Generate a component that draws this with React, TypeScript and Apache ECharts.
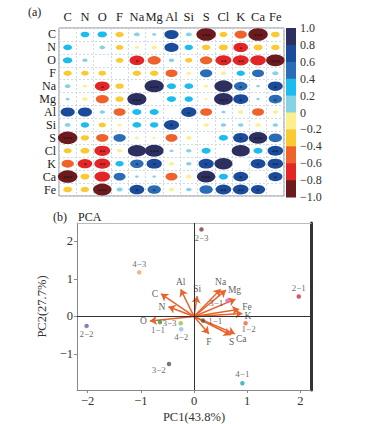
import React, { useEffect, useRef } from "react";
import * as echarts from "echarts";

const FONT = "'Liberation Serif', 'DejaVu Serif', serif";

// ---------- panel (a): correlation matrix ----------
const elements = ["C", "N", "O", "F", "Na", "Mg", "Al", "Si", "S", "Cl", "K", "Ca", "Fe"];
// upper triangle, row i holds r(i, j) for j > i
const corrUpper = [
  [0.32, 0.36, -0.3, 0.16, 0.06, 0.62, 0.16, -0.92, -0.28, -0.52, -0.92, -0.32],
  [0.14, -0.26, -0.08, -0.14, 0.62, 0.3, -0.3, -0.34, -0.64, -0.34, -0.3],
  [-0.26, -0.66, -0.56, 0.14, -0.24, -0.52, -0.72, -0.72, -0.7, -0.86],
  [-0.3, -0.3, -0.5, -0.08, 0.52, -0.14, 0.3, 0.5, 0.18],
  [0.9, 0.34, 0.32, -0.06, 0.84, 0.58, 0.04, 0.66],
  [0.34, 0.3, -0.02, 0.88, 0.68, 0.04, 0.58],
  [0.68, -0.5, 0.06, -0.14, -0.5, -0.12],
  [-0.14, 0.14, 0.14, -0.14, 0.14],
  [0.34, 0.68, 0.86, 0.58],
  [0.84, 0.34, 0.7],
  [0.66, 0.7],
  [0.62],
];
// significance stars, same shape
const sigUpper = [
  [0, 0, 0, 0, 0, 0, 0, 3, 0, 0, 3, 0],
  [0, 0, 0, 0, 0, 0, 0, 0, 1, 0, 0],
  [0, 1, 0, 0, 0, 0, 2, 2, 0, 3],
  [0, 0, 0, 0, 0, 0, 0, 0, 0],
  [3, 0, 0, 0, 0, 1, 0, 1],
  [0, 0, 0, 3, 1, 0, 1],
  [1, 0, 0, 0, 0, 0],
  [0, 0, 0, 0, 0],
  [0, 1, 3, 0],
  [0, 0, 2],
  [1, 2],
  [1],
];
// colour bar bins (upper bound of each 0.2 bin) and colours, top to bottom
const binUpper = [1.0, 0.8, 0.6, 0.4, 0.2, 0, -0.2, -0.4, -0.6, -0.8];
const binColors = [
  "#2c2f60", "#1b4b9b", "#2a6cb5", "#1dbcee", "#88d2e6",
  "#fcef8e", "#fbc930", "#ef622c", "#e42526", "#6c1a1e",
];

// ---------- panel (b): PCA ----------
const sampleNames = ["2−3", "4−3", "2−1", "3−1", "1−1", "3−3", "4−2", "1−1", "1−2", "2−2", "3−2", "4−1"];
const samplePC1 = [0.14, -1.03, 1.97, 0.63, -0.64, -0.25, -0.24, 0.17, 0.97, -2.02, -0.47, 0.91];
const samplePC2 = [2.31, 1.17, 0.53, 0.42, -0.15, -0.18, -0.34, -0.11, -0.18, -0.25, -1.26, -1.77];
const sampleColors = [
  "#7b3a3a", "#f5a05a", "#c8323c", "#cc66cc", "#2e9a44", "#a0bb4c",
  "#8cc0ea", "#555555", "#f0642e", "#7b58a8", "#555555", "#1aa8b8",
];
const loadingNames = ["C", "N", "O", "F", "Na", "Mg", "Al", "Si", "S", "Cl", "K", "Ca", "Fe"];
const loadPC1 = [-0.62, -0.48, -0.83, 0.28, 0.5, 0.6, -0.25, 0.06, 0.69, 0.78, 0.91, 0.77, 0.85];
const loadPC2 = [0.6, 0.26, -0.12, -0.46, 0.72, 0.7, 0.72, 0.54, -0.49, 0.46, 0.08, -0.46, 0.19];
const loadingShowLabel = [true, true, true, true, true, true, true, true, true, false, true, true, true];
const pc1Ticks = [-2, -1, 0, 1, 2];
const pc2Ticks = [-1, 0, 1, 2];

// label placement (style only)
const sampleLabelPos: any[] = [
  { position: "bottom", distance: 2 },
  { position: "top", distance: 2 },
  { position: "top", distance: 2 },
  { position: "left", distance: 2, offset: [0, 2] },
  { position: "bottom", distance: 1, offset: [-2, 0] },
  { position: "left", distance: 2 },
  { position: "bottom", distance: 1 },
  { position: "right", distance: 3 },
  { position: "bottom", distance: 0, offset: [3, -1] },
  { position: "bottom", distance: 1 },
  { position: "left", distance: 1, offset: [0, 6] },
  { position: "top", distance: 2 },
];
const loadingLabelPos: any[] = [
  { position: "left", distance: 3 },
  { position: "left", distance: 3 },
  { position: "left", distance: 3 },
  { position: "bottom", distance: 3 },
  { position: "top", distance: 2 },
  { position: "right", distance: 2 },
  { position: "top", distance: 2 },
  { position: "top", distance: 2 },
  { position: "bottom", distance: 2, offset: [1, 0] },
  { position: "right", distance: 2 },
  { position: "right", distance: 2, offset: [0, 3] },
  { position: "right", distance: 1, offset: [0, 5] },
  { position: "right", distance: 3, offset: [0, -2] },
];

function corr(i: number, j: number): number {
  if (i < j) return corrUpper[i][j - i - 1];
  return corrUpper[j][i - j - 1];
}
function sig(i: number, j: number): number {
  if (i < j) return sigUpper[i][j - i - 1];
  return sigUpper[j][i - j - 1];
}
function colorFor(r: number): string {
  const k = Math.max(0, Math.min(9, Math.floor((1 - r) / 0.2 + 1e-9)));
  return binColors[k];
}
const minus = (s: string) => s.replace(/-/g, "−");
const fmtTick = (v: number) => minus(String(Math.round(v * 100) / 100));
const fmtBar = (v: number) => {
  const r = Math.round(v * 10) / 10;
  if (r === 0) return "0";
  return minus(r.toFixed(1));
};

export default function App() {
  const ref = useRef<HTMLDivElement>(null);
  useEffect(() => {
    if (!ref.current) return;
    const chart = echarts.init(ref.current, undefined, { renderer: "svg" });

    const corrData: any[] = [];
    for (let i = 0; i < elements.length; i++) {
      for (let j = 0; j < elements.length; j++) {
        if (i === j) continue;
        corrData.push([j, i, corr(i, j), sig(i, j)]);
      }
    }

    const option: any = {
      animation: false,
      textStyle: { fontFamily: FONT },
      graphic: [
        { type: "text", left: 28, top: 6, style: { text: "(a)", font: `12px ${FONT}`, fill: "#222" } },
        { type: "text", left: 53, top: 211, style: { text: "(b)", font: `12px ${FONT}`, fill: "#222" } },
        { type: "text", left: 78, top: 211, style: { text: "PCA", font: `12px ${FONT}`, fill: "#222" } },
      ],
      grid: [
        { left: 59, top: 28, width: 225, height: 168, show: true, borderColor: "#8c8c8c", borderWidth: 1 },
        { left: 77, top: 223, width: 234, height: 167 },
        { left: 286, top: 28, width: 10, height: 169 },
      ],
      xAxis: [
        {
          gridIndex: 0, type: "category", data: elements, position: "top",
          axisLine: { show: false }, axisTick: { show: false },
          axisLabel: { fontSize: 12.5, color: "#222", margin: 5, interval: 0, fontFamily: FONT },
          splitLine: { show: true, interval: 0, lineStyle: { color: "#cddbe8", type: [2, 2], width: 1 } },
        },
        {
          gridIndex: 1, type: "value", min: -2.2, max: 2.2,
          axisLine: { onZero: false, lineStyle: { color: "#888" } },
          axisTick: { show: true, length: 3, customValues: pc1Ticks, lineStyle: { color: "#888" } },
          axisLabel: { customValues: pc1Ticks, formatter: fmtTick, fontSize: 12.5, color: "#333", margin: 4, fontFamily: FONT },
          splitLine: { show: false },
          name: "PC1(43.8%)", nameLocation: "middle", nameGap: 20,
          nameTextStyle: { fontSize: 12.5, color: "#333", fontFamily: FONT },
        },
        {
          gridIndex: 1, type: "value", min: -2.2, max: 2.2, position: "top",
          axisLine: { onZero: false, lineStyle: { color: "#bbbbbb" } },
          axisTick: { show: false }, axisLabel: { show: false }, splitLine: { show: false },
        },
        { gridIndex: 2, type: "value", min: 0, max: 1, show: false },
      ],
      yAxis: [
        {
          gridIndex: 0, type: "category", data: elements, inverse: true,
          axisLine: { show: false }, axisTick: { show: false },
          axisLabel: { fontSize: 12, color: "#222", margin: 3, interval: 0, fontFamily: FONT },
          splitLine: { show: true, interval: 0, lineStyle: { color: "#cddbe8", type: [2, 2], width: 1 } },
        },
        {
          gridIndex: 1, type: "value", min: -1.95, max: 2.48,
          axisLine: { onZero: false, lineStyle: { color: "#888" } },
          axisTick: { show: true, length: 3, customValues: pc2Ticks, lineStyle: { color: "#888" } },
          axisLabel: { customValues: pc2Ticks, formatter: fmtTick, fontSize: 12.5, color: "#333", margin: 4, fontFamily: FONT },
          splitLine: { show: false },
          name: "PC2(27.7%)", nameLocation: "middle", nameGap: 24,
          nameTextStyle: { fontSize: 12.5, color: "#333", fontFamily: FONT },
        },
        {
          gridIndex: 1, type: "value", min: -1.95, max: 2.48, position: "right",
          axisLine: { onZero: false, lineStyle: { color: "#333", width: 3 } },
          axisTick: { show: false }, axisLabel: { show: false }, splitLine: { show: false },
        },
        {
          gridIndex: 2, type: "value", min: -1, max: 1, interval: 0.2, position: "right",
          axisLine: { show: false }, axisTick: { show: false }, splitLine: { show: false },
          axisLabel: { fontSize: 12, color: "#333", margin: 4, formatter: fmtBar, fontFamily: FONT },
        },
      ],
      series: [
        {
          type: "scatter", xAxisIndex: 0, yAxisIndex: 0, data: corrData,
          symbol: "circle",
          symbolSize: (v: any) => {
            const w = 3 + 18 * Math.abs(v[2]);
            return [w, w * 0.64];
          },
          itemStyle: { color: (p: any) => colorFor(p.value[2]), opacity: 1 },
          label: {
            show: true, position: "inside",
            formatter: (p: any) => "*".repeat(p.value[3]),
            fontSize: 6, color: "#111", offset: [0, 1.5], fontFamily: FONT,
          },
          silent: true,
        },
        {
          type: "custom", xAxisIndex: 3, yAxisIndex: 3,
          data: binUpper.map((u, k) => [u, k]),
          renderItem: (params: any, api: any) => {
            const hi = api.value(0);
            const k = api.value(1);
            const p1 = api.coord([0, hi]);
            const p2 = api.coord([1, hi - 0.2]);
            return {
              type: "rect",
              shape: { x: p1[0], y: p1[1], width: p2[0] - p1[0], height: p2[1] - p1[1] + 0.5 },
              style: { fill: binColors[k] },
            };
          },
          silent: true,
        },
        {
          type: "scatter", xAxisIndex: 1, yAxisIndex: 1, z: 1,
          data: [],
          markLine: {
            silent: true, symbol: "none", label: { show: false },
            lineStyle: { color: "#333", width: 1, type: "solid" },
            data: [{ xAxis: 0 }, { yAxis: 0 }],
          },
        },
        {
          type: "lines", coordinateSystem: "cartesian2d", xAxisIndex: 1, yAxisIndex: 1, z: 3,
          symbol: ["none", "arrow"], symbolSize: [0, 7],
          lineStyle: { color: "#e8632c", width: 1.5, opacity: 1 },
          data: loadingNames.map((n, i) => ({ name: n, coords: [[0, 0], [loadPC1[i], loadPC2[i]]] })),
          silent: true,
        },
        {
          type: "scatter", xAxisIndex: 1, yAxisIndex: 1, z: 4, symbolSize: 0,
          data: loadingNames.map((n, i) => ({
            name: n, value: [loadPC1[i], loadPC2[i]],
            label: { show: loadingShowLabel[i], ...loadingLabelPos[i] },
          })),
          label: { formatter: "{b}", fontSize: 9.5, color: "#333", fontFamily: FONT },
          silent: true,
        },
        {
          type: "scatter", xAxisIndex: 1, yAxisIndex: 1, z: 5, symbolSize: 4.5,
          data: sampleNames.map((n, i) => ({
            name: n, value: [samplePC1[i], samplePC2[i]],
            itemStyle: { color: sampleColors[i] },
            label: { show: true, ...sampleLabelPos[i] },
          })),
          label: { formatter: "{b}", fontSize: 9, color: "#444", fontFamily: FONT },
          silent: true,
        },
      ],
    };
    chart.setOption(option);
    return () => chart.dispose();
  }, []);
  return (
    <div
      ref={ref}
      style={{ position: "fixed", left: 0, top: 0, width: 380, height: 424, background: "#fff" }}
    />
  );
}
